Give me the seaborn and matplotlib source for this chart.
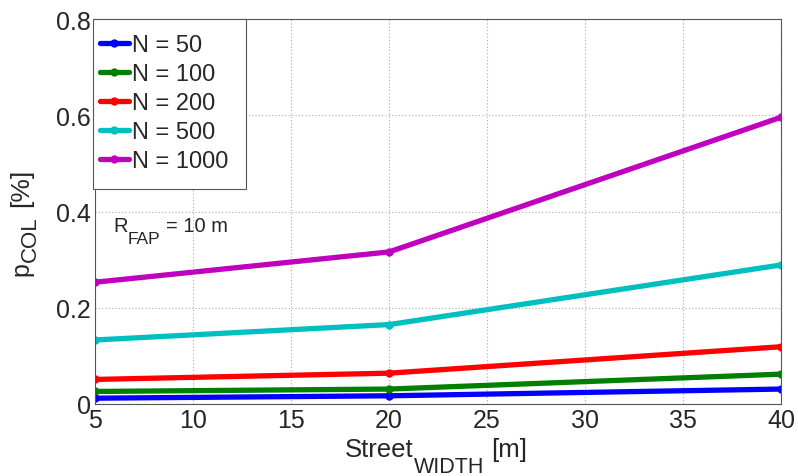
import matplotlib
matplotlib.use("Agg")
import matplotlib.pyplot as plt
from matplotlib.transforms import IdentityTransform
from matplotlib.patches import Rectangle
import seaborn as sns
import pandas as pd

street_width = [5, 20, 40]
n_labels = ["N = 50", "N = 100", "N = 200", "N = 500", "N = 1000"]
p_n50 = [0.012, 0.017, 0.031]
p_n100 = [0.026, 0.031, 0.062]
p_n200 = [0.051, 0.064, 0.119]
p_n500 = [0.133, 0.165, 0.289]
p_n1000 = [0.253, 0.316, 0.596]
colors = [(0, 0, 1), (0, 0.5, 0), (1, 0, 0), (0, 0.75, 0.75), (0.75, 0, 0.75)]
x_ticks = [5, 10, 15, 20, 25, 30, 35, 40]
y_ticks = [0, 0.2, 0.4, 0.6, 0.8]
y_ticklabels = ["0", "0.2", "0.4", "0.6", "0.8"]

rows = []
for lab, vals in zip(n_labels, [p_n50, p_n100, p_n200, p_n500, p_n1000]):
    for x, y in zip(street_width, vals):
        rows.append({"x": x, "y": y, "N": lab})
df = pd.DataFrame(rows)

sns.set_style("white")
plt.rcParams["font.family"] = ["Liberation Sans", "DejaVu Sans"]

fig = plt.figure(figsize=(7.98, 4.77), dpi=100)
ax = fig.add_axes([0.119, 0.151, 0.860, 0.807])

sns.lineplot(data=df, x="x", y="y", hue="N", hue_order=n_labels,
             palette=colors, linewidth=3.8, marker="o", markersize=6,
             markeredgewidth=0, ax=ax, legend=True)

ax.set_xlim(5, 40)
ax.set_ylim(0, 0.8)
ax.set_xticks(x_ticks)
ax.set_yticks(y_ticks)
ax.set_yticklabels(y_ticklabels)
ax.tick_params(axis="both", labelsize=18, direction="in", length=5,
               color="#444444", pad=3)
ax.grid(True, linestyle=(0, (1, 2)), color="#aaaaaa", linewidth=0.8)
for s in ax.spines.values():
    s.set_color("#555555")
    s.set_linewidth(0.8)
ax.set_xlabel("")
ax.set_ylabel("")

# legend box frame (drawn separately so padding can differ per side)
ax.add_patch(Rectangle((-0.003, 0.558), 0.223, 0.442, transform=ax.transAxes,
                       facecolor="white", edgecolor="#555555", linewidth=0.8,
                       zorder=4, clip_on=False))
leg = ax.legend(loc="upper left", bbox_to_anchor=(0.0, 0.974), fontsize=17,
                frameon=False, borderaxespad=0, handlelength=1.25,
                handletextpad=0.12, labelspacing=0.3, borderpad=0.2)
leg.set_zorder(5)

H = 477


def place_parts(parts, x0, y0, rotation=0):
    """parts: (text, fontsize, drop_px, gap_before_px); coords in pixels from bottom-left."""
    r = fig.canvas.get_renderer()
    pos = 0.0
    for s, size, drop, gap in parts:
        pos += gap
        if rotation == 0:
            t = fig.text(x0 + pos, y0 - drop, s, fontsize=size, ha="left",
                         va="baseline", transform=IdentityTransform())
            pos += t.get_window_extent(r).width
        else:
            t = fig.text(x0 + drop, y0 + pos, s, fontsize=size, rotation=90,
                         rotation_mode="anchor", ha="left", va="baseline",
                         transform=IdentityTransform())
            pos += t.get_window_extent(r).height


# x label: Street_WIDTH [m]
place_parts([("Street", 18.5, 0, 0), ("WIDTH", 15.5, 16, 0), ("[m]", 18.5, 0, 7)],
            345, H - 457)
# y label: p_COL [%]
place_parts([("p", 18, 0, 0), ("COL", 16, 8, 0), ("[%]", 19, 0, 9)],
            28, H - 276, rotation=90)
# annotation: R_FAP = 10 m
place_parts([("R", 14.5, 0, 0), ("FAP", 12.5, 12, 0), ("= 10 m", 14.5, 0, 6)],
            113, H - 232)

fig.savefig("out.png", dpi=100)
